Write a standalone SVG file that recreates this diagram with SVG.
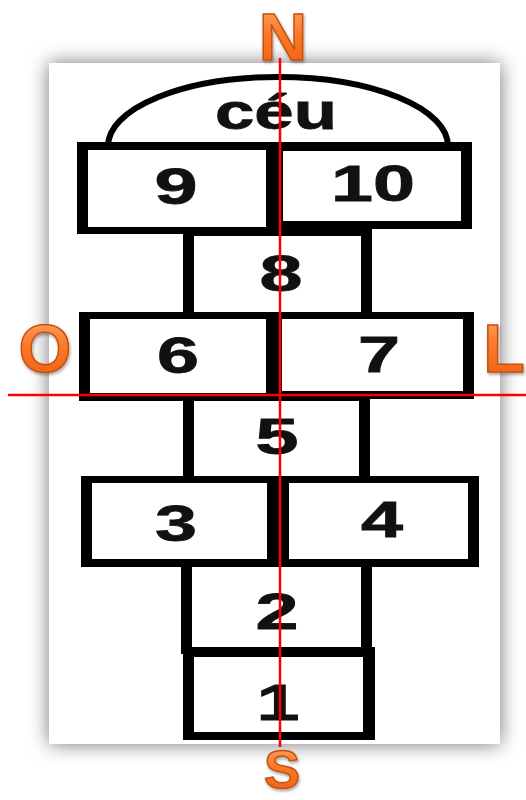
<svg xmlns="http://www.w3.org/2000/svg" width="526" height="800" viewBox="0 0 526 800">
<defs>
<style>
.b{fill:#000}
.w{fill:#fff}
.num{font-family:"Liberation Sans",Arial,sans-serif;font-weight:bold;font-size:50px;fill:#111;text-anchor:middle;stroke:#111;stroke-width:0.8}
.cmp{font-family:"Liberation Sans",Arial,sans-serif;font-weight:bold;fill:url(#og);stroke:#c9500f;stroke-width:1.5;text-anchor:middle;filter:url(#ts)}
.red{stroke:#ff0000;stroke-width:2.5;fill:none}
</style>
<linearGradient id="og" x1="0" y1="0" x2="0" y2="1">
<stop offset="0" stop-color="#ffae70"/>
<stop offset="0.45" stop-color="#fb7a2a"/>
<stop offset="1" stop-color="#ee5e12"/>
</linearGradient>
<filter id="sh" x="-20%" y="-20%" width="140%" height="140%">
<feDropShadow dx="0" dy="0" stdDeviation="10" flood-color="#000" flood-opacity="0.55"/>
</filter>
<filter id="ts" x="-20%" y="-20%" width="140%" height="140%">
<feDropShadow dx="1" dy="2" stdDeviation="1.5" flood-color="#000" flood-opacity="0.35"/>
</filter>
</defs>
<rect width="526" height="800" fill="#fff"/>
<rect id="panel" x="49" y="63" width="451" height="681" fill="#fff" filter="url(#sh)"/>
<g id="ceu">
<path d="M108,146 A170,69 0 0 1 448,146" fill="#fff" stroke="#000" stroke-width="6"/>
<text class="num" x="276" y="129" font-size="46" textLength="122" lengthAdjust="spacingAndGlyphs">céu</text>
</g>
<g id="n9"><rect class="b" x="77" y="142" width="199" height="92"/><rect class="w" x="88" y="150" width="178" height="77"/><text class="num" x="176" y="204" textLength="43" lengthAdjust="spacingAndGlyphs">9</text></g>
<g id="n10"><rect class="b" x="267" y="142" width="205" height="87"/><rect class="w" x="283" y="151" width="178" height="70"/><text class="num" x="373" y="201" textLength="84" lengthAdjust="spacingAndGlyphs">10</text></g>
<g id="n8"><rect class="b" x="183" y="228" width="189" height="91"/><rect class="w" x="194" y="236" width="167" height="77"/><text class="num" x="281" y="291" textLength="43" lengthAdjust="spacingAndGlyphs">8</text></g>
<g id="n6"><rect class="b" x="79" y="312" width="202" height="89"/><rect class="w" x="90" y="319" width="176" height="74"/><text class="num" x="178" y="373" textLength="42" lengthAdjust="spacingAndGlyphs">6</text></g>
<g id="n7"><rect class="b" x="268" y="312" width="206" height="87"/><rect class="w" x="282" y="319" width="181" height="72"/><text class="num" x="379" y="372" textLength="42" lengthAdjust="spacingAndGlyphs">7</text></g>
<g id="n5"><rect class="b" x="183" y="393" width="187" height="90"/><rect class="w" x="194" y="401" width="165" height="75"/><text class="num" x="277" y="454" textLength="43" lengthAdjust="spacingAndGlyphs">5</text></g>
<g id="n3"><rect class="b" x="81" y="476" width="198" height="91"/><rect class="w" x="92" y="483" width="175" height="76"/><text class="num" x="176" y="541" textLength="42" lengthAdjust="spacingAndGlyphs">3</text></g>
<g id="n4"><rect class="b" x="270" y="476" width="209" height="91"/><rect class="w" x="289" y="483" width="179" height="76"/><text class="num" x="382" y="537" textLength="42" lengthAdjust="spacingAndGlyphs">4</text></g>
<g id="n2"><rect class="b" x="181" y="559" width="191" height="95"/><rect class="w" x="192" y="567" width="169" height="80"/><text class="num" x="277" y="629" textLength="43" lengthAdjust="spacingAndGlyphs">2</text></g>
<g id="n1"><rect class="b" x="183" y="647" width="192" height="93"/><rect class="w" x="194" y="657" width="169" height="75"/><text class="num" x="278" y="720" textLength="43" lengthAdjust="spacingAndGlyphs">1</text></g>
<g id="connectors">
<line class="red" x1="280" y1="58" x2="280" y2="747"/>
<line class="red" x1="8" y1="395" x2="526" y2="395"/>
</g>
<g id="compass">
<text class="cmp" x="283" y="60" font-size="67">N</text>
<text class="cmp" x="45" y="372" font-size="68">O</text>
<text class="cmp" x="504" y="372" font-size="68">L</text>
<text class="cmp" x="282" y="788" font-size="54">S</text>
</g>
</svg>
